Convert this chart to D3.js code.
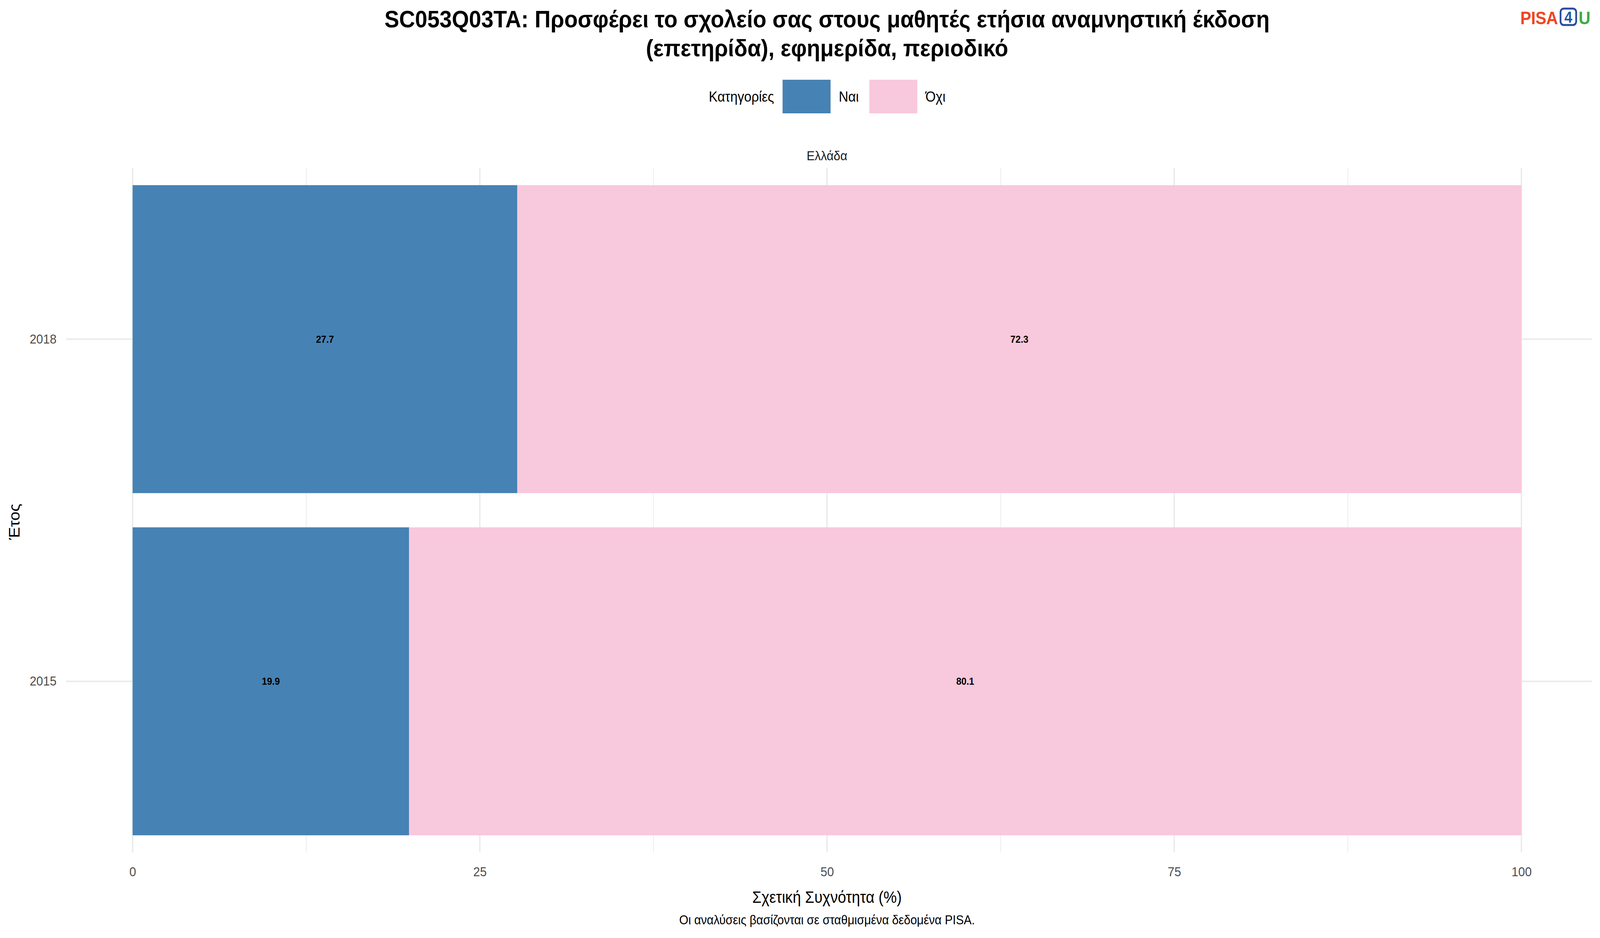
<!DOCTYPE html>
<html><head><meta charset="utf-8">
<script src="https://cdn.jsdelivr.net/npm/d3@7"></script>
<style>html,body{margin:0;padding:0;background:#fff;overflow:hidden}svg{display:block;width:100vw;height:100vh}text{font-family:"Liberation Sans",Arial,sans-serif}</style>
</head><body><svg id="c" viewBox="0 0 4500 2400" preserveAspectRatio="none"></svg>
<script>
const years = ["2018","2015"];
const yesValues = [27.7, 19.9];
const noValues = [72.3, 80.1];
const categories = ["Ναι","Όχι"];
const colors = ["#4682B4","#F8C8DC"];
const xTicks = [0,25,50,75,100];

const svg = d3.select("#c");
const x = d3.scaleLinear().domain([0,100]).range([373,4279]);
const y = d3.scaleBand().domain(years).range([430,2181]).paddingInner(0.1).paddingOuter(0.05);

const g = svg.append("g");
[12.5,37.5,62.5,87.5].forEach(v=>g.append("line").attr("x1",x(v)).attr("x2",x(v)).attr("y1",430).attr("y2",2181).attr("stroke","#ebebeb").attr("stroke-width",2));
xTicks.forEach(v=>g.append("line").attr("x1",x(v)).attr("x2",x(v)).attr("y1",430).attr("y2",2181).attr("stroke","#ebebeb").attr("stroke-width",4));
years.forEach(yr=>g.append("line").attr("x1",186).attr("x2",4477).attr("y1",y(yr)+y.bandwidth()/2).attr("y2",y(yr)+y.bandwidth()/2).attr("stroke","#ebebeb").attr("stroke-width",4));

years.forEach((yr,i)=>{
  const segs=[[0,yesValues[i]],[yesValues[i],yesValues[i]+noValues[i]]];
  segs.forEach((s,j)=>{
    g.append("rect").attr("x",x(s[0])).attr("width",x(s[1])-x(s[0])).attr("y",y(yr)).attr("height",y.bandwidth()).attr("fill",colors[j]);
    g.append("text").attr("x",(x(s[0])+x(s[1]))/2).attr("y",y(yr)+y.bandwidth()/2).attr("dy","0.35em").attr("text-anchor","middle").attr("font-size",26).attr("font-weight","bold").text((j?noValues[i]:yesValues[i]).toFixed(1));
  });
});

const xa = svg.append("g").attr("transform","translate(0,2215)").call(d3.axisBottom(x).tickValues(xTicks).tickSize(0));
xa.select(".domain").remove();
xa.selectAll("text").attr("font-size",34).attr("fill","#4d4d4d").attr("dy","0.71em");
const ya = svg.append("g").attr("transform","translate(162,0)").call(d3.axisLeft(y).tickSize(0));
ya.select(".domain").remove();
ya.selectAll("text").attr("font-size",34).attr("fill","#4d4d4d");

svg.append("text").attr("x",2326).attr("y",2310).attr("text-anchor","middle").attr("font-size",42).text("Σχετική Συχνότητα (%)");
svg.append("text").attr("x",2326).attr("y",2365).attr("text-anchor","middle").attr("font-size",33).text("Οι αναλύσεις βασίζονται σε σταθμισμένα δεδομένα PISA.");
svg.append("text").attr("transform","translate(55,1335) rotate(-90)").attr("text-anchor","middle").attr("font-size",42).text("Έτος");
svg.append("text").attr("x",2326).attr("y",410).attr("text-anchor","middle").attr("font-size",34).attr("fill","#1a1a1a").text("Ελλάδα");

svg.append("text").attr("x",2326).attr("y",70).attr("text-anchor","middle").attr("font-size",62).attr("font-weight","bold").text("SC053Q03TA: Προσφέρει το σχολείο σας στους μαθητές ετήσια αναμνηστική έκδοση");
svg.append("text").attr("x",2326).attr("y",144).attr("text-anchor","middle").attr("font-size",62).attr("font-weight","bold").text("(επετηρίδα), εφημερίδα, περιοδικό");

svg.append("text").attr("x",2177).attr("y",247).attr("dy","0.35em").attr("text-anchor","end").attr("font-size",37).text("Κατηγορίες");
const lx=[2201,2445];
categories.forEach((c,i)=>{
  svg.append("rect").attr("x",lx[i]).attr("y",204).attr("width",135).attr("height",86).attr("fill",colors[i]);
  svg.append("text").attr("x",lx[i]+158).attr("y",247).attr("dy","0.35em").attr("font-size",37).text(c);
});

const lg = svg.append("g").attr("font-weight","bold");
lg.append("text").attr("x",4276).attr("y",62).attr("font-size",46).attr("textLength",106).attr("fill","#EF4623").text("PISA");
lg.append("rect").attr("x",4389).attr("y",22).attr("width",44).attr("height",42).attr("rx",9).attr("fill","none").attr("stroke","#2B4C9B").attr("stroke-width",5);
lg.append("text").attr("x",4411).attr("y",58).attr("text-anchor","middle").attr("font-size",40).attr("fill","#1F5AA6").text("4");
lg.append("text").attr("x",4440).attr("y",62).attr("font-size",46).attr("fill","#3EAA48").text("U");
</script></body></html>
